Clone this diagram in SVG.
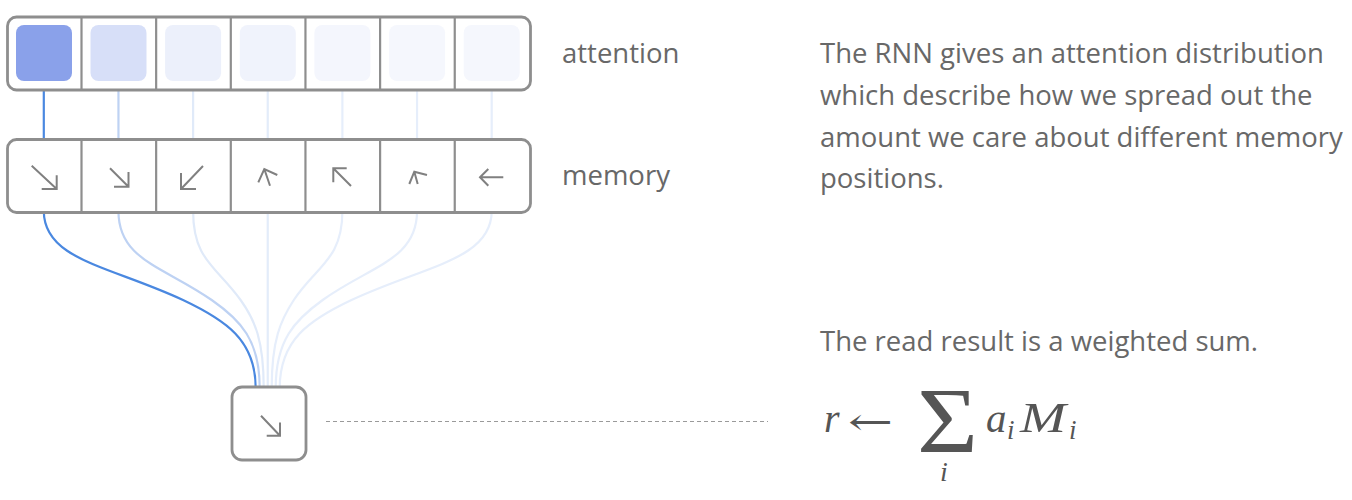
<svg xmlns="http://www.w3.org/2000/svg" width="1352" height="500" viewBox="0 0 1352 500">
<defs>
<style>
.frame{fill:#fff;stroke:#8e8e8e;stroke-width:2.8}
.div{stroke:#8e8e8e;stroke-width:2.2}
.arr{fill:none;stroke:#808080;stroke-width:2;stroke-linecap:butt}
.lbl{font-family:"Open Sans","Noto Sans",sans-serif;font-size:27.5px;fill:#686868}
.math{font-family:"Liberation Serif","Times New Roman",serif;font-style:italic;fill:#555}
.c{fill:none;stroke-width:2.2}
</style>
</defs>
<rect width="1352" height="500" fill="#fff"/>
<g id="connectors">
<g class="c">
<line x1="43.8" y1="90" x2="43.8" y2="140" stroke="#4a88e0"/>
<line x1="118.45" y1="90" x2="118.45" y2="140" stroke="#bed2f3"/>
<line x1="193.1" y1="90" x2="193.1" y2="140" stroke="#e0eaf9"/>
<line x1="267.75" y1="90" x2="267.75" y2="140" stroke="#e3ecfa"/>
<line x1="342.4" y1="90" x2="342.4" y2="140" stroke="#e6eefb"/>
<line x1="417.05" y1="90" x2="417.05" y2="140" stroke="#e6eefb"/>
<line x1="491.7" y1="90" x2="491.7" y2="140" stroke="#e6eefb"/>
<path d="M491.7,211 C491.7,260 423.6,266 351.5,300 C309.1,320 279.7,340 279.7,388" stroke="#e6eefb"/>
<path d="M417.05,211 C417.05,260 370.0,266 322.7,300 C294.9,320 275.7,340 275.7,388" stroke="#e6eefb"/>
<path d="M342.4,211 C342.4,260 316.1,266 293.8,300 C280.7,320 271.7,340 271.7,388" stroke="#e6eefb"/>
<line x1="267.75" y1="211" x2="267.75" y2="388" stroke="#e3ecfa"/>
<path d="M193.1,211 C193.1,260 216.1,266 240.6,300 C254.9,320 263.7,340 263.7,388" stroke="#e0eaf9"/>
<path d="M118.45,211 C118.45,260 162.7,266 211.7,300 C240.5,320 259.7,340 259.7,388" stroke="#bed2f3"/>
<path d="M43.8,211 C43.8,260 110.0,266 183.0,300 C225.4,320 255.7,340 255.7,388" stroke="#4a88e0"/>
</g>
<line x1="326" y1="421.5" x2="768" y2="421.5" stroke="#9a9a9a" stroke-width="1" stroke-dasharray="4 3"/>
</g>
<g id="attention">
<rect class="frame" x="7.5" y="17" width="523" height="73" rx="9"/>
<rect x="16" y="25" width="56" height="56" rx="8" fill="#8aa1ea"/>
<rect x="90.5" y="25" width="56" height="56" rx="8" fill="#d7dff8"/>
<rect x="165.1" y="25" width="56" height="56" rx="8" fill="#ecf0fb"/>
<rect x="239.8" y="25" width="56" height="56" rx="8" fill="#f0f3fc"/>
<rect x="314.4" y="25" width="56" height="56" rx="8" fill="#f4f6fd"/>
<rect x="389.1" y="25" width="56" height="56" rx="8" fill="#f5f7fd"/>
<rect x="463.7" y="25" width="56" height="56" rx="8" fill="#f5f7fd"/>
<g class="div">
<line x1="81.5" y1="17" x2="81.5" y2="90"/>
<line x1="156.15" y1="17" x2="156.15" y2="90"/>
<line x1="230.8" y1="17" x2="230.8" y2="90"/>
<line x1="305.45" y1="17" x2="305.45" y2="90"/>
<line x1="380.1" y1="17" x2="380.1" y2="90"/>
<line x1="454.75" y1="17" x2="454.75" y2="90"/>
</g>
</g>
<g id="memory">
<rect class="frame" x="7.5" y="139.5" width="523" height="73" rx="9"/>
<g class="div">
<line x1="81.5" y1="139.5" x2="81.5" y2="212.5"/>
<line x1="156.15" y1="139.5" x2="156.15" y2="212.5"/>
<line x1="230.8" y1="139.5" x2="230.8" y2="212.5"/>
<line x1="305.45" y1="139.5" x2="305.45" y2="212.5"/>
<line x1="380.1" y1="139.5" x2="380.1" y2="212.5"/>
<line x1="454.75" y1="139.5" x2="454.75" y2="212.5"/>
</g>
<g class="arr">
<path d="M31.7,165.7 L56.7,189 M56.7,175.2 L56.7,189 L41.7,189"/>
<path d="M110,168.3 L128.5,186.7 M128.5,172 L128.5,186.7 L114,186.7"/>
<path d="M203,166 L181,189 M181,173 L181,189 L196,189"/>
<path d="M270,185.7 L264.3,169 M258.3,182.3 L264.3,169 L277.3,175"/>
<path d="M351,186 L333.3,168.3 M333.3,182.3 L333.3,168.3 L346.7,168.3"/>
<path d="M417.7,184 L414.3,171.7 M409.3,184 L414.3,171.7 L427,175"/>
<path d="M503.3,177.3 L480,177.3 M488.3,169 L480,177.3 L488.3,185.7"/>
</g>
</g>
<g id="result">
<rect class="frame" x="232" y="387" width="74" height="73" rx="10"/>
<path class="arr" d="M261,415.7 L280,435.7 M280,422.5 L280,435.7 L266.7,435.7"/>
</g>
<g id="labels">
<text class="lbl" x="562" y="63">attention</text>
<text class="lbl" x="562" y="185">memory</text>
<text class="lbl" x="820" y="63">The RNN gives an attention distribution</text>
<text class="lbl" x="820" y="105">which describe how we spread out the</text>
<text class="lbl" x="820" y="146.5">amount we care about different memory</text>
<text class="lbl" x="820" y="188">positions.</text>
<text class="lbl" x="820" y="351">The read result is a weighted sum.</text>
</g>
<g id="formula">
<text class="math" x="824" y="432" font-size="40">r</text>
<text x="848" y="435" font-family="DejaVu Serif,serif" font-size="38" fill="#555" textLength="45" lengthAdjust="spacingAndGlyphs">←</text>
<text x="917" y="451.5" font-family="Liberation Serif,serif" font-size="94" fill="#555" textLength="61" lengthAdjust="spacingAndGlyphs">Σ</text>
<text class="math" x="940" y="481" font-size="28">i</text>
<text class="math" x="986" y="432" font-size="41">a</text>
<text class="math" x="1007" y="439" font-size="27">i</text>
<text class="math" x="1020" y="432" font-size="42" textLength="46" lengthAdjust="spacingAndGlyphs">M</text>
<text class="math" x="1069" y="439" font-size="27">i</text>
</g>
</svg>
